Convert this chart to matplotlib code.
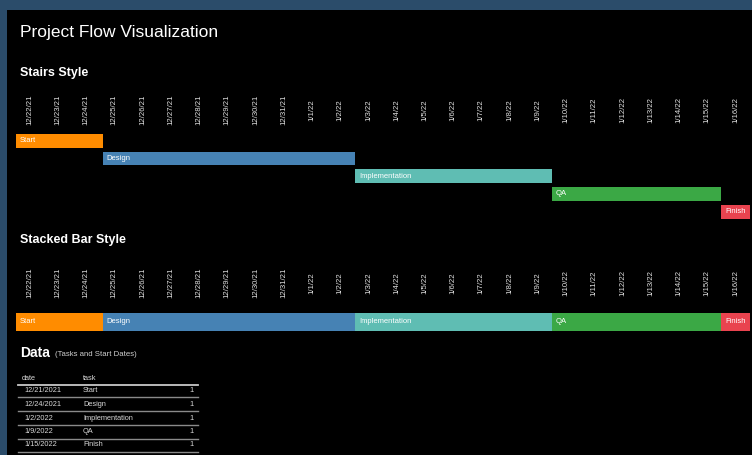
import pandas as pd
import matplotlib
matplotlib.use("Agg")
import matplotlib.pyplot as plt
import matplotlib.dates as mdates
from matplotlib.transforms import blended_transform_factory

W, H = 752, 455

# data
tasks = ["Start", "Design", "Implementation", "QA", "Finish"]
starts = ["2021-12-21 12:00", "2021-12-24 14:00", "2022-01-02 13:00",
          "2022-01-09 12:00", "2022-01-15 12:00"]
project_end = "2022-01-16 12:00"
lane = [1, 1, 1, 1, 1]
colors = ["#ff8c00", "#4682b4", "#5fbdb3", "#3ba845", "#e9434f"]

start_ts = pd.to_datetime(starts)
end_ts = list(start_ts[1:]) + [pd.Timestamp(project_end)]
tick_days = pd.date_range("2021-12-22", "2022-01-16", freq="D")

x0 = mdates.date2num(start_ts)
x1 = mdates.date2num(pd.DatetimeIndex(end_ts))
xlim = (x0[0], x1[-1])

plt.rcParams["font.family"] = ["Liberation Sans", "DejaVu Sans"]

fig = plt.figure(figsize=(W / 100, H / 100), dpi=100)
fig.patch.set_facecolor("#2b4c6a")

def px_axes(left, top, right, bottom):
    return fig.add_axes([left / W, 1 - bottom / H, (right - left) / W, (bottom - top) / H])

def fmt_day(d):
    return f"{d.month}/{d.day}/{d.strftime('%y')}"

def fy(y):
    return 1 - y / H

# black panel
panel = px_axes(7, 10, W, H)
panel.set_facecolor("black")
panel.set_xticks([])
panel.set_yticks([])
for s in panel.spines.values():
    s.set_visible(False)

fig.text(20 / W, fy(32), "Project Flow Visualization", color="white",
         fontsize=12.5, va="center", ha="left")
fig.text(20 / W, fy(73), "Stairs Style", color="white", fontsize=9,
         fontweight="bold", va="center", ha="left")
fig.text(20 / W, fy(240), "Stacked Bar Style", color="white", fontsize=9,
         fontweight="bold", va="center", ha="left")


def date_ticks(ax, y_center):
    trans = blended_transform_factory(ax.transData, fig.transFigure)
    for d in tick_days:
        ax.text(mdates.date2num(d), fy(y_center), fmt_day(d), transform=trans,
                rotation=90, ha="center", va="center", color="#e0e0e0",
                fontsize=5.6)


def clean(ax):
    ax.set_facecolor("none")
    ax.set_xticks([])
    ax.set_yticks([])
    for s in ax.spines.values():
        s.set_visible(False)
    ax.set_xlim(*xlim)


# stairs style
ax1 = px_axes(15.5, 132, 749.5, 220.5)
clean(ax1)
rows = list(range(len(tasks)))
ax1.barh(rows, x1 - x0, left=x0, height=0.78, color=colors)
ax1.set_ylim(len(tasks) - 0.5, -0.5)
for i, t in enumerate(tasks):
    ax1.annotate(t, (x0[i], i), xytext=(4, 0), textcoords="offset pixels",
                 color="white", fontsize=5.5, va="center", ha="left")
date_ticks(ax1, 110)

# stacked bar style
ax2 = px_axes(15.5, 313, 749.5, 330.5)
clean(ax2)
ax2.barh([0] * len(tasks), x1 - x0, left=x0, height=1.0, color=colors)
ax2.set_ylim(-0.5, 0.5)
for i, t in enumerate(tasks):
    ax2.annotate(t, (x0[i], 0), xytext=(4, 0), textcoords="offset pixels",
                 color="white", fontsize=5.5, va="center", ha="left")
date_ticks(ax2, 283)

# data table
fig.text(20 / W, fy(353), "Data", color="white", fontsize=10,
         fontweight="bold", va="center", ha="left")
fig.text(55 / W, fy(354), "(Tasks and Start Dates)", color="#d0d0d0",
         fontsize=5.6, va="center", ha="left")

tx0, tx1 = 18 / W, 198 / W
fig.text(22 / W, fy(378), "date", color="#d8d8d8", fontsize=5.3, va="center")
fig.text(83 / W, fy(378), "task", color="#d8d8d8", fontsize=5.3, va="center")
fig.add_artist(plt.Line2D([tx0, tx1], [fy(385), fy(385)], color="#c8c8c8", lw=1.3))
row_y = [390, 404, 418, 431.5, 445]
for i, t in enumerate(tasks):
    y = row_y[i]
    d = start_ts[i]
    fig.text(24 / W, fy(y), f"{d.month}/{d.day}/{d.year}",
             color="#d8d8d8", fontsize=5.3, va="center")
    fig.text(83 / W, fy(y), t, color="#d8d8d8", fontsize=5.3, va="center")
    fig.text(194 / W, fy(y), str(lane[i]), color="#d8d8d8", fontsize=5.3,
             va="center", ha="right")
    fig.add_artist(plt.Line2D([tx0, tx1], [fy(y + 7), fy(y + 7)],
                              color="#8a8a8a", lw=1.0))

fig.savefig("out.png", dpi=100, facecolor=fig.get_facecolor())
